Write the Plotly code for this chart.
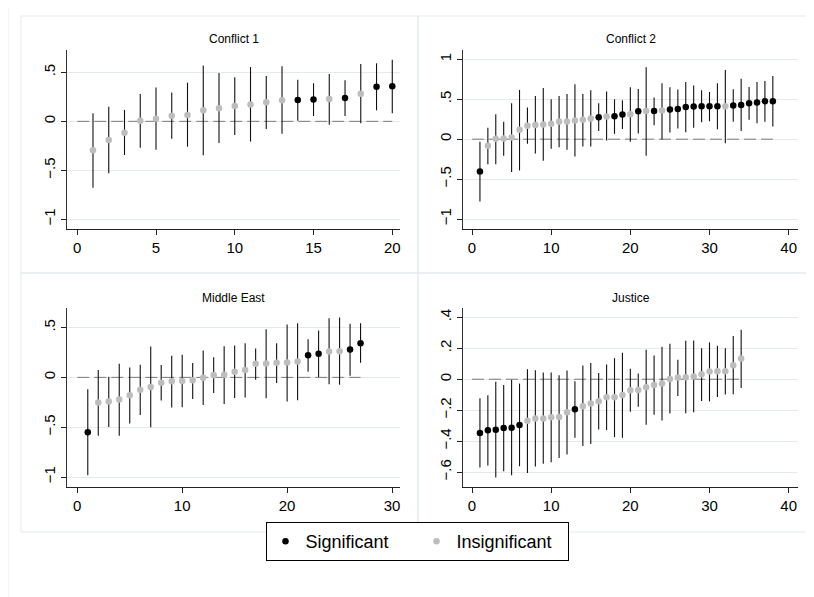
import plotly.graph_objects as go

# page body has an 8px margin: figure sits at (8, 8)
OFF = 8
W, H = 806, 589

# ---------------- data ----------------
c1_est = [-0.296, -0.19, -0.116, 0.007, 0.027, 0.058, 0.065, 0.112, 0.133, 0.156,
          0.173, 0.194, 0.214, 0.218, 0.224, 0.228, 0.238, 0.282, 0.354, 0.357]
c1_lo = [-0.677, -0.53, -0.344, -0.269, -0.289, -0.177, -0.259, -0.347, -0.221, -0.139,
         -0.207, -0.078, -0.126, 0.005, 0.054, -0.034, 0.054, -0.02, 0.112, 0.082]
c1_hi = [0.082, 0.15, 0.116, 0.279, 0.344, 0.293, 0.395, 0.571, 0.493, 0.449,
         0.554, 0.463, 0.561, 0.424, 0.388, 0.483, 0.418, 0.585, 0.592, 0.629]
c1_sig = [0, 0, 0, 0, 0, 0, 0, 0, 0, 0, 0, 0, 0, 1, 1, 0, 1, 0, 1, 1]

c2_est = [-0.404, -0.083, 0.004, 0.008, 0.021, 0.117, 0.167, 0.179, 0.183, 0.192,
          0.221, 0.221, 0.233, 0.242, 0.258, 0.275, 0.283, 0.288, 0.308, 0.313,
          0.35, 0.354, 0.354, 0.358, 0.371, 0.379, 0.404, 0.408, 0.413, 0.413,
          0.413, 0.413, 0.421, 0.429, 0.45, 0.458, 0.475, 0.475]
c2_lo = [-0.779, -0.313, -0.313, -0.208, -0.41, -0.392, -0.058, -0.179, -0.271, -0.121,
         -0.1, -0.133, -0.217, -0.092, -0.092, 0.104, -0.017, 0.067, 0.129, -0.033,
         0.071, -0.208, 0.175, -0.005, 0.083, 0.133, 0.088, 0.142, 0.213, 0.225,
         0.125, -0.05, 0.217, 0.104, 0.242, 0.2, 0.217, 0.158]
c2_hi = [-0.033, 0.142, 0.313, 0.217, 0.45, 0.617, 0.396, 0.542, 0.642, 0.5,
         0.542, 0.567, 0.688, 0.567, 0.613, 0.45, 0.596, 0.5, 0.488, 0.65,
         0.629, 0.9, 0.521, 0.7, 0.65, 0.621, 0.717, 0.671, 0.613, 0.592,
         0.7, 0.867, 0.625, 0.758, 0.654, 0.717, 0.729, 0.792]
c2_sig = [1, 0, 0, 0, 0, 0, 0, 0, 0, 0, 0, 0, 0, 0, 0, 1, 0, 1, 1, 0,
          1, 0, 1, 0, 1, 1, 1, 1, 1, 1, 1, 0, 1, 1, 1, 1, 1, 1]

me_est = [-0.55, -0.253, -0.243, -0.223, -0.18, -0.123, -0.097, -0.053, -0.04, -0.037,
          -0.03, -0.003, 0.023, 0.027, 0.057, 0.073, 0.137, 0.14, 0.147, 0.15,
          0.16, 0.223, 0.237, 0.26, 0.263, 0.28, 0.343]
me_lo = [-0.983, -0.587, -0.497, -0.587, -0.463, -0.377, -0.5, -0.233, -0.303, -0.3,
         -0.217, -0.277, -0.157, -0.267, -0.207, -0.203, -0.023, -0.21, -0.057, -0.243,
         -0.23, 0.057, 0.004, -0.07, -0.073, 0.017, 0.147]
me_hi = [-0.12, 0.073, 0.007, 0.137, 0.1, 0.127, 0.31, 0.123, 0.217, 0.227,
         0.143, 0.27, 0.203, 0.313, 0.32, 0.343, 0.29, 0.483, 0.343, 0.53,
         0.543, 0.383, 0.47, 0.593, 0.6, 0.537, 0.543]
me_sig = [1, 0, 0, 0, 0, 0, 0, 0, 0, 0, 0, 0, 0, 0, 0, 0, 0, 0, 0, 0,
          0, 1, 1, 0, 0, 1, 1]

ju_est = [-0.348, -0.33, -0.326, -0.315, -0.313, -0.296, -0.268, -0.253, -0.253, -0.246,
          -0.244, -0.214, -0.194, -0.175, -0.156, -0.143, -0.117, -0.117, -0.102, -0.071,
          -0.069, -0.052, -0.037, -0.028, 0.002, 0.011, 0.013, 0.017, 0.032, 0.05,
          0.052, 0.052, 0.091, 0.134]
ju_lo = [-0.57, -0.557, -0.635, -0.594, -0.62, -0.562, -0.605, -0.564, -0.546, -0.536,
         -0.508, -0.486, -0.378, -0.432, -0.419, -0.324, -0.328, -0.374, -0.378, -0.21,
         -0.177, -0.294, -0.229, -0.266, -0.222, -0.108, -0.22, -0.214, -0.14, -0.143,
         -0.114, -0.099, -0.097, -0.056]
ju_hi = [-0.123, -0.104, -0.017, -0.037, -0.004, -0.028, 0.065, 0.058, 0.043, 0.043,
         0.026, 0.056, -0.013, 0.089, 0.104, 0.041, 0.095, 0.136, 0.171, 0.067,
         0.037, 0.19, 0.153, 0.21, 0.229, 0.125, 0.248, 0.25, 0.2, 0.238,
         0.216, 0.2, 0.279, 0.32]
ju_sig = [1, 1, 1, 1, 1, 1, 0, 0, 0, 0, 0, 0, 1, 0, 0, 0, 0, 0, 0, 0,
          0, 0, 0, 0, 0, 0, 0, 0, 0, 0, 0, 0, 0, 0]

titles = ["Conflict 1", "Conflict 2", "Middle East", "Justice"]
x_ticks = [[0, 5, 10, 15, 20], [0, 10, 20, 30, 40], [0, 10, 20, 30], [0, 10, 20, 30, 40]]
y_ticks = [[-1, -0.5, 0, 0.5], [-1, -0.5, 0, 0.5, 1], [-1, -0.5, 0, 0.5],
           [-0.6, -0.4, -0.2, 0, 0.2, 0.4]]
y_tick_labels = [["\u22121", "\u2212.5", "0", ".5"], ["\u22121", "\u2212.5", "0", ".5", "1"],
                 ["\u22121", "\u2212.5", "0", ".5"],
                 ["\u2212.6", "\u2212.4", "\u2212.2", "0", ".2", ".4"]]
x_ranges = [[-0.65, 20.49], [-1.14, 41.18], [-0.98, 30.76], [-1.14, 41.18]]
y_ranges = [[-1.099, 0.728], [-1.125, 1.117], [-1.1, 0.696], [-0.696, 0.46]]

panels = [(c1_est, c1_lo, c1_hi, c1_sig), (c2_est, c2_lo, c2_hi, c2_sig),
          (me_est, me_lo, me_hi, me_sig), (ju_est, ju_lo, ju_hi, ju_sig)]

# plot-region pixel boxes in page coordinates (left, right, top, bottom)
boxes = [(67, 400, 50, 229), (463, 798, 50, 229), (67, 400, 308, 487), (463, 798, 308, 487)]
# panel (graph region) boxes in page coordinates
regions = [(21, 418, 16, 273), (418, 813, 16, 273), (21, 418, 273, 532), (418, 813, 273, 532)]

FONT = "Liberation Sans, Arial, sans-serif"
SIG_COL = "#000000"
INS_COL = "#bdbdbd"
GRID = "#e3ebed"


def px(x):
    return (x - OFF) / W


def py(y):
    return 1 - (y - OFF) / H


fig = go.Figure()
layout = dict(
    width=W, height=H, margin=dict(l=0, r=0, t=0, b=0),
    paper_bgcolor="white", plot_bgcolor="white",
    font=dict(family=FONT, color="black"),
    shapes=[], annotations=[],
)

title_y = [39, 39, 298, 298]

for k, (est, lo, hi, sig) in enumerate(panels):
    n = len(est)
    xs = list(range(1, n + 1))
    ax = "" if k == 0 else str(k + 1)
    xref, yref = "x" + ax, "y" + ax
    l, r, t, b = boxes[k]
    layout["xaxis" + ax] = dict(
        domain=[px(l), px(r)], range=x_ranges[k], anchor=yref,
        tickvals=x_ticks[k], ticks="outside", ticklen=5, tickwidth=1, tickcolor="#222",
        showline=True, linecolor="#222", linewidth=1, showgrid=False, zeroline=False,
        tickfont=dict(size=15, family=FONT),
    )
    layout["yaxis" + ax] = dict(
        domain=[py(b), py(t)], range=y_ranges[k], anchor=xref,
        tickvals=y_ticks[k], ticktext=y_tick_labels[k], tickangle=-90,
        ticks="outside", ticklen=5, tickwidth=1, tickcolor="#222",
        showline=True, linecolor="#333", linewidth=1,
        showgrid=True, gridcolor=GRID, gridwidth=1, zeroline=False,
        tickfont=dict(size=15, family=FONT),
    )
    # zero reference line
    fig.add_trace(go.Scatter(x=[0, n], y=[0, 0], mode="lines", xaxis=xref, yaxis=yref,
                             line=dict(color="#7a7a7a", width=1, dash="12px,5px"),
                             showlegend=False, hoverinfo="skip"))
    # confidence spikes
    bx, by = [], []
    for i in range(n):
        bx += [xs[i], xs[i], None]
        by += [lo[i], hi[i], None]
    fig.add_trace(go.Scatter(x=bx, y=by, mode="lines", xaxis=xref, yaxis=yref,
                             line=dict(color="#111", width=1.1),
                             showlegend=False, hoverinfo="skip"))
    # points
    for flag, col, name in [(1, SIG_COL, "Significant"), (0, INS_COL, "Insignificant")]:
        px_ = [xs[i] for i in range(n) if sig[i] == flag]
        py_ = [est[i] for i in range(n) if sig[i] == flag]
        fig.add_trace(go.Scatter(x=px_, y=py_, mode="markers", xaxis=xref, yaxis=yref,
                                 marker=dict(color=col, size=6.5, line=dict(width=0)),
                                 name=name, legendgroup=name, showlegend=(k == 0)))
    layout["annotations"].append(dict(
        text=titles[k], x=px((l + r) / 2), y=py(title_y[k]), xref="paper", yref="paper",
        xanchor="center", yanchor="middle", showarrow=False,
        font=dict(size=12, family=FONT, color="black")))
    rl, rr, rt, rb = regions[k]
    layout["shapes"].append(dict(type="rect", xref="paper", yref="paper",
                                 x0=px(rl), x1=px(rr), y0=py(rb), y1=py(rt),
                                 line=dict(color=GRID, width=1), layer="below"))

# outer border
layout["shapes"].append(dict(type="rect", xref="paper", yref="paper",
                             x0=px(8), x1=px(830), y0=py(610), y1=py(3),
                             line=dict(color=GRID, width=1), layer="below"))

layout["legend"] = dict(
    orientation="h", x=px(417), xanchor="center", y=py(522), yanchor="top",
    bordercolor="black", borderwidth=1, bgcolor="white",
    font=dict(size=18, family=FONT, color="black"), itemsizing="trace",
    itemwidth=30, entrywidth=106, entrywidthmode="pixels",
)

fig.update_layout(**layout)
fig.write_html("out.html")
